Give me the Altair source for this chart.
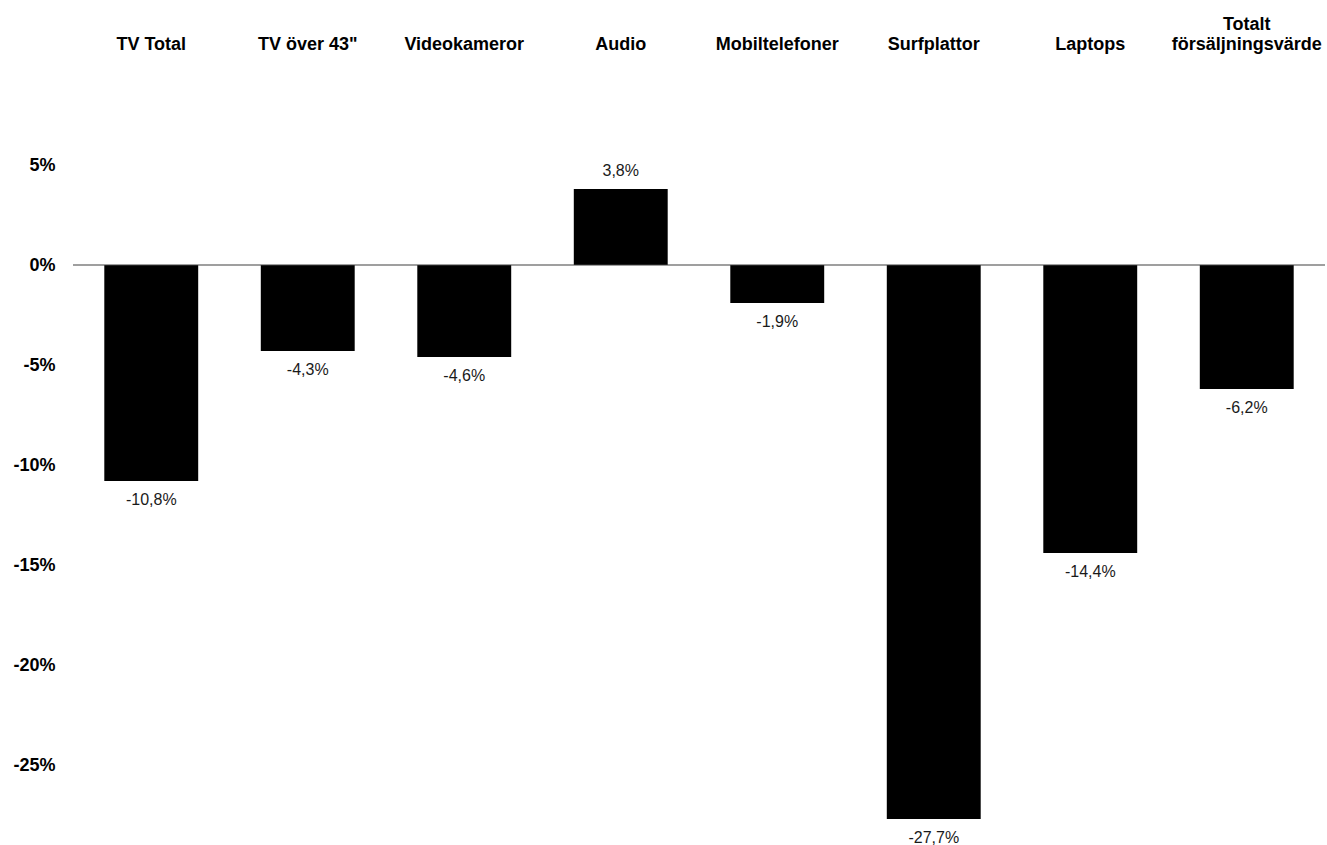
import altair as alt
import pandas as pd

# Change in sales value per product group (percent)
categories = [
    "TV Total",
    "TV över 43\"",
    "Videokameror",
    "Audio",
    "Mobiltelefoner",
    "Surfplattor",
    "Laptops",
    "Totalt försäljningsvärde",
]
values = [-10.8, -4.3, -4.6, 3.8, -1.9, -27.7, -14.4, -6.2]
y_ticks = [-25, -20, -15, -10, -5, 0, 5]

df = pd.DataFrame({"kategori": categories, "andel": values})

FONT = "Liberation Sans"
PLOT_W = 1252
PLOT_H = 770

# Two-line header labels: the long one wraps, the others sit on the lower line
header_expr = (
    "indexof(datum.label, 'försäljnings') >= 0 ? split(datum.label, ' ') : ['', datum.label]"
)

x_enc = alt.X(
    "kategori:N",
    sort=categories,
    scale=alt.Scale(paddingInner=0.4, paddingOuter=0.2),
    axis=alt.Axis(
        orient="top",
        title=None,
        labelAngle=0,
        labelFont=FONT,
        labelFontSize=18,
        labelFontWeight="bold",
        labelColor="#000000",
        labelPadding=32,
        labelBaseline="bottom",
        labelLineHeight=20,
        labelLimit=400,
        labelExpr=header_expr,
        ticks=False,
        tickSize=0,
        domain=False,
        grid=False,
    ),
)

y_scale = alt.Scale(domain=[-28.5, 10], nice=False, zero=False)

base = alt.Chart(df)

bars = base.mark_bar(color="#000000").encode(
    x=x_enc,
    y=alt.Y(
        "andel:Q",
        scale=y_scale,
        axis=alt.Axis(
            title=None,
            values=y_ticks,
            labelExpr="datum.value + '%'",
            labelFont=FONT,
            labelFontSize=18,
            labelFontWeight="bold",
            labelColor="#000000",
            labelPadding=18,
            ticks=False,
            tickSize=0,
            domain=False,
            grid=False,
        ),
    ),
    y2=alt.datum(0),
)

zero_line = alt.Chart(pd.DataFrame({"z": [0]})).mark_rule(
    color="#404040", strokeWidth=1.2
).encode(y=alt.Y("z:Q", scale=y_scale))

# Value text with decimal comma and a plain hyphen for negatives
label_calc = (
    "(datum.andel < 0 ? '-' : '') + "
    "replace(format(abs(datum.andel), '.1f'), '.', ',') + '%'"
)

neg_labels = (
    base.transform_filter("datum.andel < 0")
    .transform_calculate(etikett=label_calc)
    .mark_text(font=FONT, fontSize=16, color="#1a1a1a", baseline="middle", dy=19)
    .encode(x=alt.X("kategori:N", sort=categories), y=alt.Y("andel:Q", scale=y_scale), text="etikett:N")
)

pos_labels = (
    base.transform_filter("datum.andel >= 0")
    .transform_calculate(etikett=label_calc)
    .mark_text(font=FONT, fontSize=16, color="#1a1a1a", baseline="middle", dy=-18)
    .encode(x=alt.X("kategori:N", sort=categories), y=alt.Y("andel:Q", scale=y_scale), text="etikett:N")
)

chart = (
    alt.layer(bars, zero_line, neg_labels, pos_labels)
    .properties(
        width=PLOT_W,
        height=PLOT_H,
        autosize=alt.AutoSizeParams(type="none"),
        padding={"left": 73, "top": 65, "right": 2, "bottom": 10},
        background="#ffffff",
    )
    .configure_view(stroke=None)
)

chart.save("out.html", embed_options={"renderer": "svg", "actions": False})
